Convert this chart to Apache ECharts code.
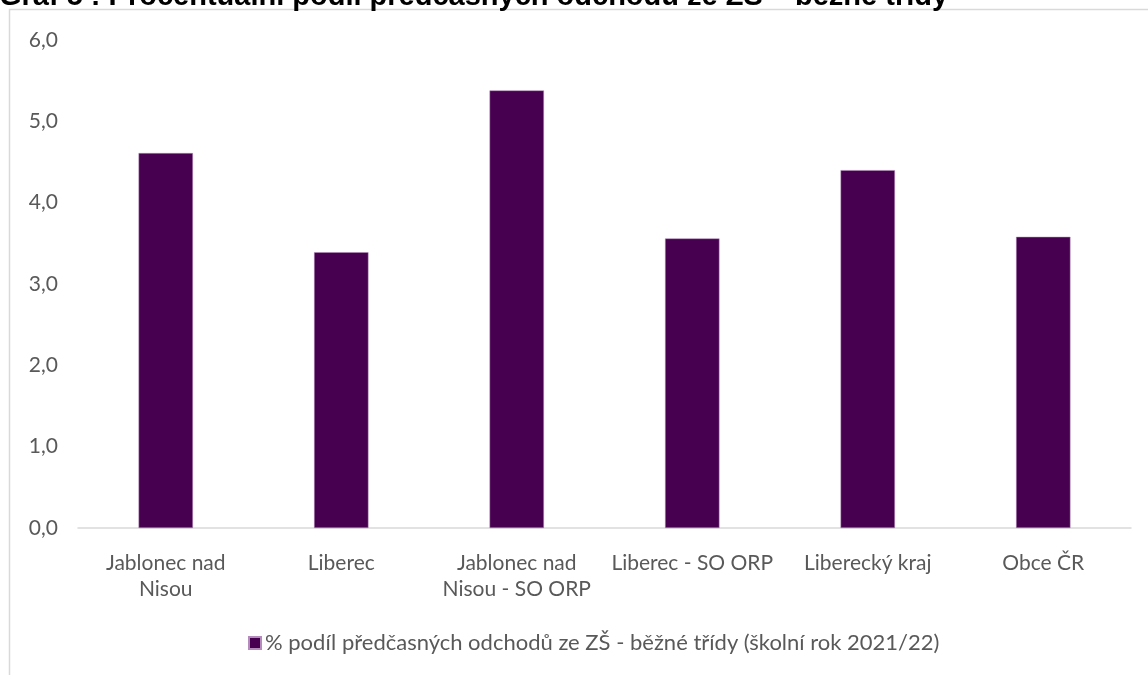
<!DOCTYPE html>
<html><head><meta charset="utf-8">
<script src="https://cdn.jsdelivr.net/npm/echarts@6/dist/echarts.min.js"></script>
<style>html,body{margin:0;padding:0;background:#fff}#c{width:1148px;height:675px}</style>
</head><body><div id="c"></div>
<script>
const titleText = 'Graf 5 : Procentuální podíl předčasných odchodů ze ZŠ – běžné třídy';
const categories = ['Jablonec nad\nNisou', 'Liberec', 'Jablonec nad\nNisou - SO ORP', 'Liberec - SO ORP', 'Liberecký kraj', 'Obce ČR'];
const seriesName = '% podíl předčasných odchodů ze ZŠ - běžné třídy (školní rok 2021/22)';
const values = [4.61, 3.39, 5.38, 3.56, 4.40, 3.58];
const yTicks = [0, 1, 2, 3, 4, 5, 6];

const chart = echarts.init(document.getElementById('c'), null, {renderer: 'canvas'});
const font = 'Lato, "Open Sans", sans-serif';
chart.setOption({
  animation: false,
  graphic: [
    {type: 'polyline', shape: {points: [[9.5, 675], [9.5, 9.5], [1148, 9.5]]}, style: {stroke: '#d9d9d9', lineWidth: 1.5, fill: null}, z: 0},
    {type: 'text', left: -1, top: -18, style: {text: titleText, font: 'bold 29px "Liberation Sans", Arial, sans-serif', fill: '#000'}, z: 10}
  ],
  grid: {left: 78, right: 17, top: 40, bottom: 147},
  legend: {
    bottom: 16, left: 243,
    itemWidth: 12, itemHeight: 12, itemGap: 4,
    icon: 'rect',
    textStyle: {fontFamily: font, fontSize: 22, color: '#595959', padding: [0, 0, 0, -1]},
    data: [seriesName]
  },
  xAxis: {
    type: 'category', data: categories,
    axisLine: {lineStyle: {color: '#d9d9d9', width: 1.5}},
    axisTick: {show: false},
    axisLabel: {fontFamily: font, fontSize: 21, color: '#595959', lineHeight: 26, margin: 22, interval: 0}
  },
  yAxis: {
    type: 'value', min: 0, max: 6, interval: 1,
    axisLine: {show: false}, axisTick: {show: false},
    splitLine: {show: false},
    axisLabel: {fontFamily: font, fontSize: 21, color: '#595959', margin: 20,
      formatter: v => yTicks.includes(v) ? v.toFixed(1).replace('.', ',') : ''}
  },
  series: [{
    name: seriesName, type: 'bar', data: values, barWidth: '31%',
    itemStyle: {color: '#47004f', borderColor: '#b48cbb', borderWidth: 0.5}
  }]
});
</script></body></html>
